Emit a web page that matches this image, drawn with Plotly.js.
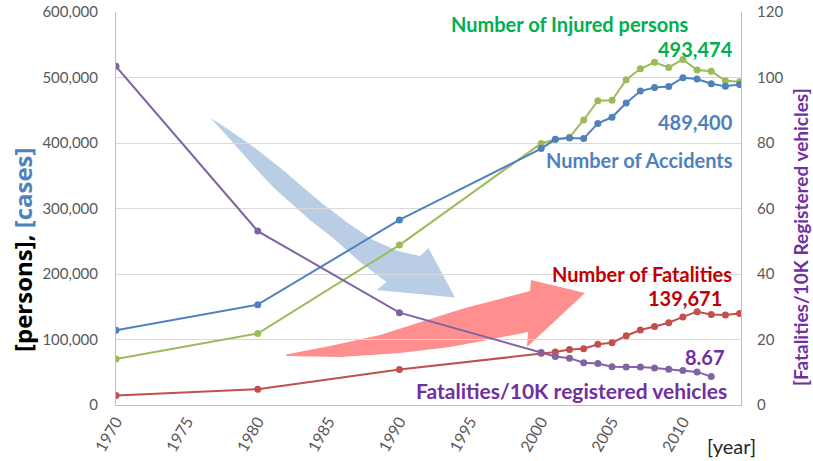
<!DOCTYPE html>
<html><head><meta charset="utf-8">
<script src="https://cdn.plot.ly/plotly-3.0.1.min.js"></script>
<style>html,body{margin:0;padding:0;background:#fff;} #chart{width:813px;height:461px;}</style>
</head><body><div id="chart"></div>
<script>
// ---- data ----
const years = [1970,1980,1990,2000,2001,2002,2003,2004,2005,2006,2007,2008,2009,2010,2011,2012,2013,2014];
const accidents = [114100,153200,282600,391449,405637,407497,406726,429910,439255,460920,479216,484704,486384,499628,497686,490383,486476,489400];
const injured = [70100,109100,244100,399265,405216,408711,435122,464521,465282,496481,513340,523193,515458,527512,511394,509667,494893,493474];
const fatalities = [14500,24000,54100,78911,80888,84674,85998,92618,94968,105749,114444,119860,125660,134513,142485,138258,137572,139671];
const rateYears = [1970,1980,1990,2000,2001,2002,2003,2004,2005,2006,2007,2008,2009,2010,2011,2012];
const fatalityRate = [103.4,53.1,28.2,16.0,14.8,14.3,12.9,12.7,11.7,11.6,11.6,11.3,10.9,10.5,10.1,8.67];
const leftTicks = [0,100000,200000,300000,400000,500000,600000];
const rightTicks = [0,20,40,60,80,100,120];

// ---- geometry helpers (pixel -> paper) ----
const W = 813, H = 461, L = 116, R = 72, T = 12, B = 56;
const PW = W - L - R, PH = H - T - B;
const X = px => (px - L) / PW;
const Y = py => (H - B - py) / PH;
const FONT = 'Lato, "Open Sans", sans-serif';

function mkLine(x, y, color, yaxis) {
  return {x: x, y: y, yaxis: yaxis, type: 'scatter', mode: 'lines+markers',
    line: {color: color, width: 2}, marker: {color: color, size: 7},
    hoverinfo: 'skip', showlegend: false};
}
const traces = [
  mkLine(years, fatalities, '#c0504d', 'y'),
  mkLine(years, injured, '#9bbb59', 'y'),
  mkLine(years, accidents, '#4f81bd', 'y'),
  mkLine(rateYears, fatalityRate, '#8064a2', 'y2')
];

function pathFrom(pts) {
  return 'M ' + pts.map(p => X(p[0]).toFixed(4) + ',' + Y(p[1]).toFixed(4)).join(' L ') + ' Z';
}
const blueArrow = [[210,117.5],[232,132],[255,148],[283,170],[305,189],[323,204],[348,223],[373,240],[398,251],[420,256],[428.5,248],[455,297.5],[376.5,290],[386.5,282],[360,262],[333,238],[310,220],[293,205],[275,189],[258,171],[243,154],[228,137]];
const redArrow = [[286,354.5],[330,346],[380,335],[427,320],[465,308],[500,299],[530,291],[531,280],[585,293],[527,347],[528,332],[493,339],[450,347],[400,353],[340,357],[286,356]];

function ann(text, cx, cy, color, size, bold, extra) {
  return Object.assign({text: text, xref: 'paper', yref: 'paper', x: X(cx), y: Y(cy),
    xanchor: 'center', yanchor: 'middle', showarrow: false, borderpad: 0,
    font: {family: FONT, size: size, color: color, weight: bold ? 'bold' : 'normal'}}, extra || {});
}

const layout = {
  width: W, height: H, margin: {l: L, r: R, t: T, b: B, pad: 0},
  paper_bgcolor: '#fff', plot_bgcolor: '#fff',
  showlegend: false,
  xaxis: {range: [1970, 2014.1], tickmode: 'linear', tick0: 1970, dtick: 5, tickangle: -60,
    showgrid: false, zeroline: false, showline: true, linecolor: '#bfbfbf', linewidth: 1,
    ticks: '', tickfont: {family: FONT, size: 16, color: '#595959'}},
  yaxis: {range: [0, 600000], tickvals: leftTicks, tickformat: ',d', showgrid: true, gridcolor: '#d9d9d9',
    zeroline: false, showline: true, linecolor: '#bfbfbf', ticks: '', ticklabelstandoff: 14,
    tickfont: {family: FONT, size: 15, color: '#595959'}},
  yaxis2: {range: [0, 120], tickvals: rightTicks, overlaying: 'y', side: 'right', showgrid: false,
    zeroline: false, showline: true, linecolor: '#bfbfbf', ticks: '', ticklabelstandoff: 12,
    tickfont: {family: FONT, size: 15, color: '#595959'}},
  shapes: [
    {type: 'path', xref: 'paper', yref: 'paper', path: pathFrom(blueArrow), fillcolor: '#b9cde5', line: {width: 0}, layer: 'between'},
    {type: 'path', xref: 'paper', yref: 'paper', path: pathFrom(redArrow), fillcolor: '#ff8f8f', line: {width: 0}, layer: 'between'}
  ],
  annotations: [
    ann('Number of Injured persons', 569.5, 24, '#00b050', 20, true),
    ann('493,474', 695, 49, '#00b050', 20, true),
    ann('489,400', 695, 122, '#4f81bd', 20, true),
    ann('Number of Accidents', 639.5, 160, '#4f81bd', 20, true),
    ann('Number of Fatalities', 641.5, 274, '#c00000', 20, true),
    ann('139,671', 685, 298, '#c00000', 20, true),
    ann('8.67', 705, 357, '#7030a0', 20, true),
    ann('Fatalities/10K registered vehicles', 571, 390, '#7030a0', 21, true),
    ann('[year]', 731, 446, '#262626', 20, false),
    ann('[persons], <span style="color:#4f81bd">[cases]</span>', 22, 250, '#000000', 24, true,
        {textangle: -90, font: {family: '"Open Sans", Lato, sans-serif', size: 24, color: '#000000', weight: 'bold'}}),
    ann('[Fatalities/10K Registered vehicles]', 801, 237, '#7030a0', 19, true, {textangle: -90})
  ]
};
Plotly.newPlot('chart', traces, layout, {displayModeBar: false, staticPlot: true});
</script>
</body></html>
